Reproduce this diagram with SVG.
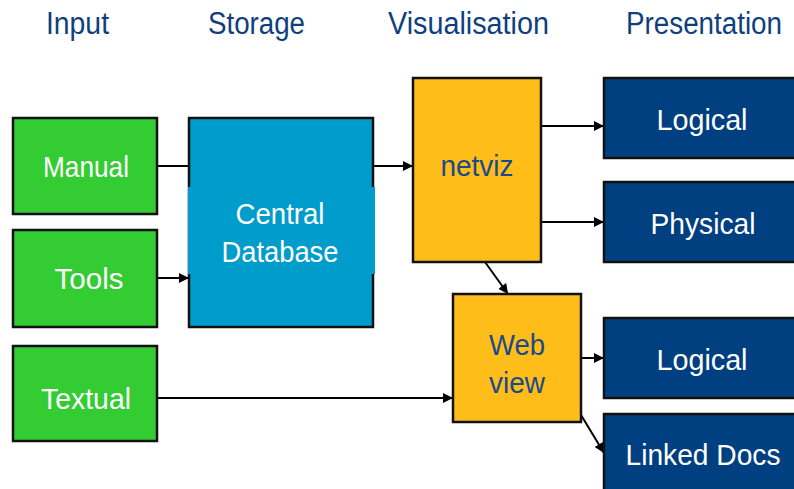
<svg xmlns="http://www.w3.org/2000/svg" width="794" height="489" viewBox="0 0 794 489">
<defs>
<style>
.box{stroke:#111;stroke-width:2.5}
.in{fill:#33cc33}
.db{fill:#009ccc}
.viz{fill:#ffbd1a}
.pres{fill:#004080}
.hdr{font-family:"Liberation Sans",Arial,sans-serif;font-size:31px;fill:#0f3f80}
.lbl{font-family:"Liberation Sans",Arial,sans-serif;font-size:30px;fill:#fff;text-anchor:middle}
.dk{fill:#1a4a8a}
.conn line{stroke:#000;stroke-width:2}
</style>
<marker id="ah" viewBox="0 0 10 10" refX="10" refY="5" markerWidth="5" markerHeight="5" orient="auto" markerUnits="strokeWidth">
<path d="M0,0 L10,5 L0,10 z" fill="#000"/>
</marker>
</defs>
<rect width="794" height="489" fill="#fff"/>
<g id="headers">
<text class="hdr" x="46" y="34" textLength="63" lengthAdjust="spacingAndGlyphs">Input</text>
<text class="hdr" x="208" y="34" textLength="97" lengthAdjust="spacingAndGlyphs">Storage</text>
<text class="hdr" x="388" y="34" textLength="161" lengthAdjust="spacingAndGlyphs">Visualisation</text>
<text class="hdr" x="626" y="34" textLength="156" lengthAdjust="spacingAndGlyphs">Presentation</text>
</g>
<g class="conn" id="connectors">
<line x1="157" y1="166" x2="189" y2="166"/>
<line x1="157" y1="278" x2="189" y2="278" marker-end="url(#ah)"/>
<line x1="373" y1="166" x2="413" y2="166" marker-end="url(#ah)"/>
<line x1="541" y1="126" x2="604" y2="126" marker-end="url(#ah)"/>
<line x1="541" y1="222" x2="604" y2="222" marker-end="url(#ah)"/>
<line x1="485" y1="262" x2="508" y2="294" marker-end="url(#ah)"/>
<line x1="157" y1="398" x2="453" y2="398" marker-end="url(#ah)"/>
<line x1="581" y1="358" x2="604" y2="358" marker-end="url(#ah)"/>
<line x1="581" y1="415" x2="604" y2="453" marker-end="url(#ah)"/>
</g>
<g id="manual">
<rect class="box in" x="13" y="118" width="144" height="96"/>
<text class="lbl" x="86" y="177" textLength="86" lengthAdjust="spacingAndGlyphs">Manual</text>
</g>
<g id="tools">
<rect class="box in" x="13" y="230" width="144" height="97"/>
<text class="lbl" x="89" y="289" textLength="69" lengthAdjust="spacingAndGlyphs">Tools</text>
</g>
<g id="textual">
<rect class="box in" x="13" y="346" width="144" height="95"/>
<text class="lbl" x="86" y="409" textLength="90" lengthAdjust="spacingAndGlyphs">Textual</text>
</g>
<g id="central-database">
<rect class="box db" x="189" y="118" width="184" height="209"/>
<rect class="db" x="188" y="187" width="187" height="87"/>
<text class="lbl" x="280" y="224" textLength="89" lengthAdjust="spacingAndGlyphs">Central</text>
<text class="lbl" x="280" y="262" textLength="117" lengthAdjust="spacingAndGlyphs">Database</text>
</g>
<g id="netviz">
<rect class="box viz" x="413" y="78" width="128" height="184"/>
<text class="lbl dk" x="477" y="176" textLength="73" lengthAdjust="spacingAndGlyphs">netviz</text>
</g>
<g id="webview">
<rect class="box viz" x="453" y="294" width="128" height="128"/>
<text class="lbl dk" x="517" y="355" textLength="56" lengthAdjust="spacingAndGlyphs">Web</text>
<text class="lbl dk" x="517" y="393" textLength="56" lengthAdjust="spacingAndGlyphs">view</text>
</g>
<g id="logical1">
<rect class="box pres" x="604" y="78" width="200" height="80"/>
<text class="lbl" x="702" y="130" textLength="91" lengthAdjust="spacingAndGlyphs">Logical</text>
</g>
<g id="physical">
<rect class="box pres" x="604" y="182" width="200" height="80"/>
<text class="lbl" x="703" y="234" textLength="105" lengthAdjust="spacingAndGlyphs">Physical</text>
</g>
<g id="logical2">
<rect class="box pres" x="604" y="318" width="200" height="80"/>
<text class="lbl" x="702" y="370" textLength="91" lengthAdjust="spacingAndGlyphs">Logical</text>
</g>
<g id="linked-docs">
<rect class="box pres" x="604" y="414" width="200" height="90"/>
<text class="lbl" x="703" y="465" textLength="155" lengthAdjust="spacingAndGlyphs">Linked Docs</text>
</g>
</svg>
